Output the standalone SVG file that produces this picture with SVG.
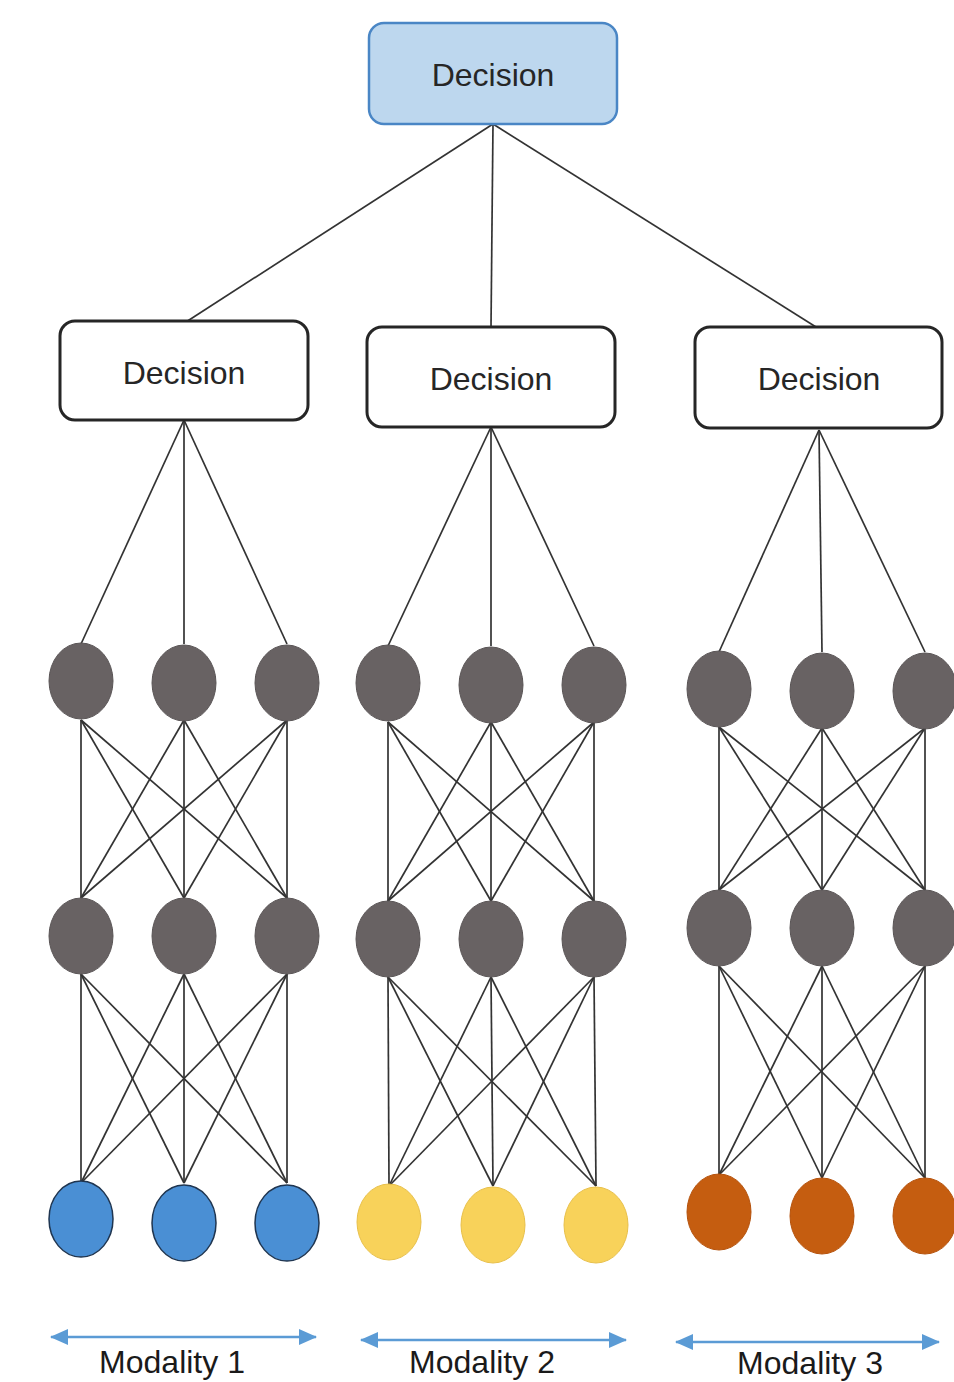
<svg xmlns="http://www.w3.org/2000/svg" width="954" height="1382" viewBox="0 0 954 1382">
<defs>
<style>
.box{fill:#fff;stroke:#262626;stroke-width:3}
.top{fill:#bdd7ee;stroke:#4a86c5;stroke-width:2.5}
.lbl{font-family:"Liberation Sans",Arial,sans-serif;font-size:32px;fill:#262626;text-anchor:middle}
.mod{font-family:"Liberation Sans",Arial,sans-serif;font-size:32px;fill:#1a1a1a;text-anchor:middle}
.n{fill:#686263;stroke:#5a5556;stroke-width:1}
.b{fill:#4a8fd4;stroke:#1f3550;stroke-width:1.5}
.y{fill:#f8d25a;stroke:#e8c04a;stroke-width:1}
.o{fill:#c55d10;stroke:#b5520c;stroke-width:1}
.c line{stroke:#333;stroke-width:1.7}
.ar{stroke:#5b9bd5;stroke-width:2.5;marker-start:url(#ah);marker-end:url(#ah)}
</style>
<marker id="ah" viewBox="0 0 18 16" refX="17" refY="8" markerWidth="18" markerHeight="16" orient="auto-start-reverse" markerUnits="userSpaceOnUse">
<path d="M0,0 L18,8 L0,16 z" fill="#5b9bd5"/>
</marker>
</defs>
<rect width="954" height="1382" fill="#fff"/>
<g id="connectors" class="c">
<line x1="493" y1="124" x2="186" y2="322"/>
<line x1="493" y1="124" x2="491" y2="327"/>
<line x1="493" y1="124" x2="816" y2="327"/>
<line x1="184" y1="420" x2="81" y2="644"/>
<line x1="184" y1="420" x2="184" y2="644"/>
<line x1="184" y1="420" x2="287" y2="644"/>
<line x1="81" y1="720" x2="81" y2="898"/><line x1="81" y1="720" x2="184" y2="898"/><line x1="81" y1="720" x2="287" y2="898"/>
<line x1="184" y1="720" x2="81" y2="898"/><line x1="184" y1="720" x2="184" y2="898"/><line x1="184" y1="720" x2="287" y2="898"/>
<line x1="287" y1="720" x2="81" y2="898"/><line x1="287" y1="720" x2="184" y2="898"/><line x1="287" y1="720" x2="287" y2="898"/>
<line x1="81" y1="974" x2="81" y2="1183"/><line x1="81" y1="974" x2="184" y2="1183"/><line x1="81" y1="974" x2="287" y2="1183"/>
<line x1="184" y1="974" x2="81" y2="1183"/><line x1="184" y1="974" x2="184" y2="1183"/><line x1="184" y1="974" x2="287" y2="1183"/>
<line x1="287" y1="974" x2="81" y2="1183"/><line x1="287" y1="974" x2="184" y2="1183"/><line x1="287" y1="974" x2="287" y2="1183"/>
<line x1="491" y1="427" x2="388" y2="646"/>
<line x1="491" y1="427" x2="491" y2="646"/>
<line x1="491" y1="427" x2="594" y2="646"/>
<line x1="388" y1="722" x2="388" y2="901"/><line x1="388" y1="722" x2="491" y2="901"/><line x1="388" y1="722" x2="594" y2="901"/>
<line x1="491" y1="722" x2="388" y2="901"/><line x1="491" y1="722" x2="491" y2="901"/><line x1="491" y1="722" x2="594" y2="901"/>
<line x1="594" y1="722" x2="388" y2="901"/><line x1="594" y1="722" x2="491" y2="901"/><line x1="594" y1="722" x2="594" y2="901"/>
<line x1="388" y1="977" x2="389" y2="1186"/><line x1="388" y1="977" x2="493" y2="1186"/><line x1="388" y1="977" x2="596" y2="1186"/>
<line x1="491" y1="977" x2="389" y2="1186"/><line x1="491" y1="977" x2="493" y2="1186"/><line x1="491" y1="977" x2="596" y2="1186"/>
<line x1="594" y1="977" x2="389" y2="1186"/><line x1="594" y1="977" x2="493" y2="1186"/><line x1="594" y1="977" x2="596" y2="1186"/>
<line x1="819" y1="430" x2="719" y2="652"/>
<line x1="819" y1="430" x2="822" y2="652"/>
<line x1="819" y1="430" x2="925" y2="652"/>
<line x1="719" y1="727" x2="719" y2="890"/><line x1="719" y1="727" x2="822" y2="890"/><line x1="719" y1="727" x2="925" y2="890"/>
<line x1="822" y1="728" x2="719" y2="890"/><line x1="822" y1="728" x2="822" y2="890"/><line x1="822" y1="728" x2="925" y2="890"/>
<line x1="925" y1="728" x2="719" y2="890"/><line x1="925" y1="728" x2="822" y2="890"/><line x1="925" y1="728" x2="925" y2="890"/>
<line x1="719" y1="966" x2="719" y2="1175"/><line x1="719" y1="966" x2="822" y2="1178"/><line x1="719" y1="966" x2="925" y2="1178"/>
<line x1="822" y1="966" x2="719" y2="1175"/><line x1="822" y1="966" x2="822" y2="1178"/><line x1="822" y1="966" x2="925" y2="1178"/>
<line x1="925" y1="966" x2="719" y2="1175"/><line x1="925" y1="966" x2="822" y2="1178"/><line x1="925" y1="966" x2="925" y2="1178"/>
</g>
<g id="decision-top"><rect class="top" x="369" y="23" width="248" height="101" rx="15"/><text class="lbl" x="493" y="86">Decision</text></g>
<g id="decision-1"><rect class="box" x="60" y="321" width="248" height="99" rx="15"/><text class="lbl" x="184" y="384">Decision</text></g>
<g id="decision-2"><rect class="box" x="367" y="327" width="248" height="100" rx="15"/><text class="lbl" x="491" y="390">Decision</text></g>
<g id="decision-3"><rect class="box" x="695" y="327" width="247" height="101" rx="15"/><text class="lbl" x="819" y="390">Decision</text></g>
<g id="m1-h1-1"><ellipse class="n" cx="81" cy="681" rx="32" ry="38"/></g>
<g id="m1-h1-2"><ellipse class="n" cx="184" cy="683" rx="32" ry="38"/></g>
<g id="m1-h1-3"><ellipse class="n" cx="287" cy="683" rx="32" ry="38"/></g>
<g id="m1-h2-1"><ellipse class="n" cx="81" cy="936" rx="32" ry="38"/></g>
<g id="m1-h2-2"><ellipse class="n" cx="184" cy="936" rx="32" ry="38"/></g>
<g id="m1-h2-3"><ellipse class="n" cx="287" cy="936" rx="32" ry="38"/></g>
<g id="m1-in-1"><ellipse class="b" cx="81" cy="1219" rx="32" ry="38"/></g>
<g id="m1-in-2"><ellipse class="b" cx="184" cy="1223" rx="32" ry="38"/></g>
<g id="m1-in-3"><ellipse class="b" cx="287" cy="1223" rx="32" ry="38"/></g>
<g id="m2-h1-1"><ellipse class="n" cx="388" cy="683" rx="32" ry="38"/></g>
<g id="m2-h1-2"><ellipse class="n" cx="491" cy="685" rx="32" ry="38"/></g>
<g id="m2-h1-3"><ellipse class="n" cx="594" cy="685" rx="32" ry="38"/></g>
<g id="m2-h2-1"><ellipse class="n" cx="388" cy="939" rx="32" ry="38"/></g>
<g id="m2-h2-2"><ellipse class="n" cx="491" cy="939" rx="32" ry="38"/></g>
<g id="m2-h2-3"><ellipse class="n" cx="594" cy="939" rx="32" ry="38"/></g>
<g id="m2-in-1"><ellipse class="y" cx="389" cy="1222" rx="32" ry="38"/></g>
<g id="m2-in-2"><ellipse class="y" cx="493" cy="1225" rx="32" ry="38"/></g>
<g id="m2-in-3"><ellipse class="y" cx="596" cy="1225" rx="32" ry="38"/></g>
<g id="m3-h1-1"><ellipse class="n" cx="719" cy="689" rx="32" ry="38"/></g>
<g id="m3-h1-2"><ellipse class="n" cx="822" cy="691" rx="32" ry="38"/></g>
<g id="m3-h1-3"><ellipse class="n" cx="925" cy="691" rx="32" ry="38"/></g>
<g id="m3-h2-1"><ellipse class="n" cx="719" cy="928" rx="32" ry="38"/></g>
<g id="m3-h2-2"><ellipse class="n" cx="822" cy="928" rx="32" ry="38"/></g>
<g id="m3-h2-3"><ellipse class="n" cx="925" cy="928" rx="32" ry="38"/></g>
<g id="m3-in-1"><ellipse class="o" cx="719" cy="1212" rx="32" ry="38"/></g>
<g id="m3-in-2"><ellipse class="o" cx="822" cy="1216" rx="32" ry="38"/></g>
<g id="m3-in-3"><ellipse class="o" cx="925" cy="1216" rx="32" ry="38"/></g>
<g id="modality-1"><line class="ar" x1="51" y1="1337" x2="316" y2="1337"/><text class="mod" x="172" y="1373">Modality 1</text></g>
<g id="modality-2"><line class="ar" x1="361" y1="1340" x2="626" y2="1340"/><text class="mod" x="482" y="1373">Modality 2</text></g>
<g id="modality-3"><line class="ar" x1="676" y1="1342" x2="939" y2="1342"/><text class="mod" x="810" y="1374">Modality 3</text></g>
</svg>
